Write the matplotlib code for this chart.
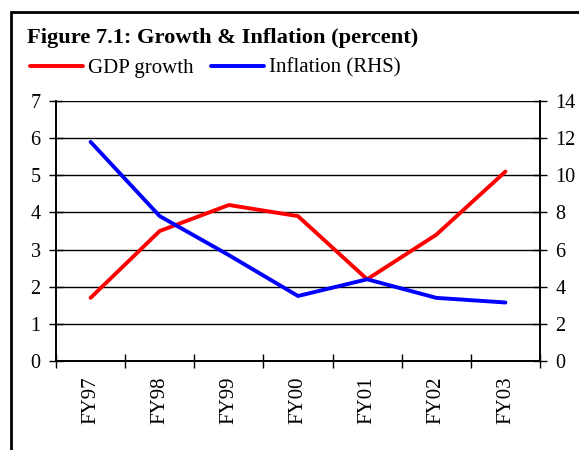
import numpy as np
import matplotlib.pyplot as plt
from matplotlib.patches import Rectangle

years = ['FY97', 'FY98', 'FY99', 'FY00', 'FY01', 'FY02', 'FY03']
gdp_growth = [1.7, 3.5, 4.2, 3.9, 2.2, 3.4, 5.1]
inflation = [11.8, 7.8, 5.7, 3.5, 4.4, 3.4, 3.15]

plt.rcParams['font.family'] = ['Liberation Serif', 'DejaVu Serif']

W, H = 579, 450
fig = plt.figure(figsize=(W / 100, H / 100), dpi=100)

# outer frame (runs off the right/bottom edge like the source)
fig.patches.append(Rectangle((11 / W, -0.1), 1.2, (H - 12) / H + 0.1, transform=fig.transFigure,
                             fill=False, edgecolor='black', linewidth=2))

ax = fig.add_axes([56 / W, 1 - 361 / H, (540 - 56) / W, (361 - 101) / H])
ax2 = ax.twinx()

x = np.arange(len(years))
l1, = ax.plot(x, gdp_growth, color='#ff0000', linewidth=2.8, solid_capstyle='round')
l2, = ax2.plot(x, inflation, color='#0000ff', linewidth=2.8, solid_capstyle='round')

ax.set_xlim(-0.5, len(years) - 0.5)
ax.set_ylim(0, 7)
ax2.set_ylim(0, 14)
ax.set_yticks(range(0, 8))
ax2.set_yticks(range(0, 15, 2))
ax.yaxis.grid(True, color='black', linewidth=1)
ax.set_axisbelow(True)

ax.set_xticks(x)
ax.set_xticklabels(years, rotation=90, fontsize=15)
ax.set_xticks(np.arange(-0.5, len(years)), minor=True)
ax.tick_params(axis='x', which='major', length=0, pad=11)
ax.tick_params(axis='x', which='minor', length=10, direction='inout', width=1)
ax.tick_params(axis='y', labelsize=14.5, direction='inout', length=10, width=1, pad=6)
ax2.tick_params(axis='y', labelsize=14.5, direction='inout', length=10, width=1, pad=6)

for a in (ax, ax2):
    a.spines['top'].set_visible(False)
    for s in ('left', 'right', 'bottom'):
        a.spines[s].set_linewidth(1.2)

fig.text(27 / W, 1 - 38 / H, 'Figure 7.1: Growth & Inflation (percent)', fontsize=16.2,
         fontweight='bold', va='center', ha='left')

fig.legend([l1, l2], ['GDP growth', 'Inflation (RHS)'], loc='center left',
           bbox_to_anchor=(30 / W, 1 - 68 / H), ncol=2, frameon=False, fontsize=15,
           handlelength=2.55, handletextpad=0.25, columnspacing=0.8,
           borderaxespad=0, borderpad=0)

fig.savefig('out.png', dpi=100)
